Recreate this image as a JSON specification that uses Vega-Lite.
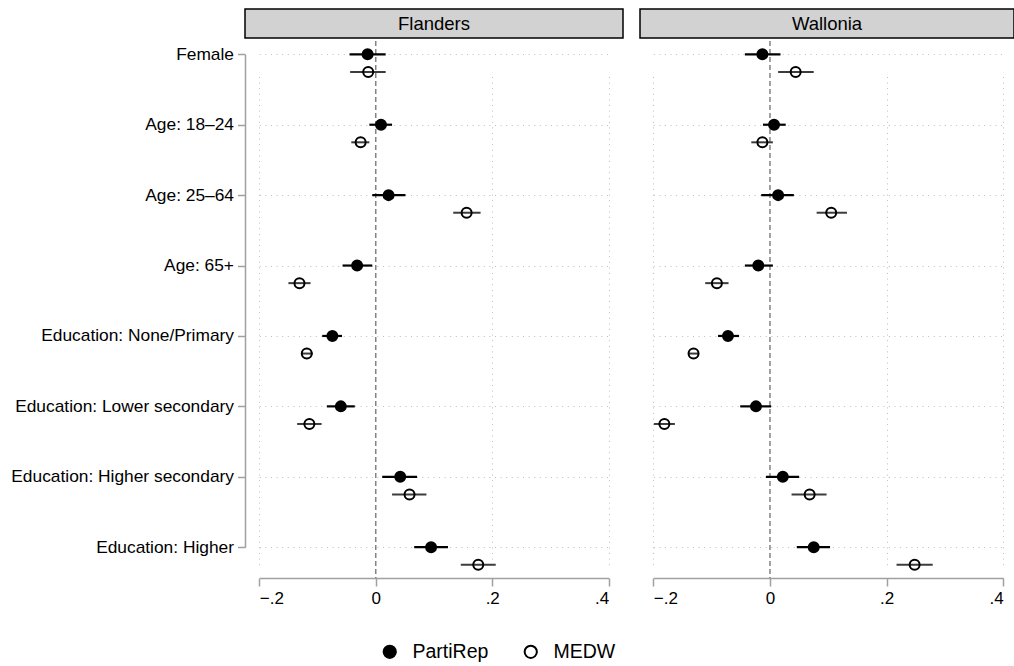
{
  "$schema": "https://vega.github.io/schema/vega-lite/v6.json",
  "padding": {"left": 10, "top": 8, "right": 0, "bottom": 0},
  "autosize": {"type": "pad"},
  "background": "white",
  "config": {
    "font": "Liberation Sans",
    "view": {"stroke": null},
    "axis": {"labelFont": "Liberation Sans", "labelColor": "black", "title": null, "labelLimit": 400},
    "legend": {"labelFont": "Liberation Sans"}
  },
  "datasets": {
    "coef": [
      {"region": "Flanders", "variable": "Female", "series": "PartiRep", "est": -0.014, "lo": -0.045, "hi": 0.017},
      {"region": "Flanders", "variable": "Female", "series": "MEDW", "est": -0.013, "lo": -0.044, "hi": 0.017},
      {"region": "Flanders", "variable": "Age: 18–24", "series": "PartiRep", "est": 0.009, "lo": -0.011, "hi": 0.028},
      {"region": "Flanders", "variable": "Age: 18–24", "series": "MEDW", "est": -0.026, "lo": -0.042, "hi": -0.011},
      {"region": "Flanders", "variable": "Age: 25–64", "series": "PartiRep", "est": 0.022, "lo": -0.006, "hi": 0.051},
      {"region": "Flanders", "variable": "Age: 25–64", "series": "MEDW", "est": 0.156, "lo": 0.133, "hi": 0.180},
      {"region": "Flanders", "variable": "Age: 65+", "series": "PartiRep", "est": -0.032, "lo": -0.057, "hi": -0.006},
      {"region": "Flanders", "variable": "Age: 65+", "series": "MEDW", "est": -0.131, "lo": -0.150, "hi": -0.112},
      {"region": "Flanders", "variable": "Education: None/Primary", "series": "PartiRep", "est": -0.0745, "lo": -0.092, "hi": -0.058},
      {"region": "Flanders", "variable": "Education: None/Primary", "series": "MEDW", "est": -0.1185, "lo": -0.128, "hi": -0.108},
      {"region": "Flanders", "variable": "Education: Lower secondary", "series": "PartiRep", "est": -0.060, "lo": -0.084, "hi": -0.036},
      {"region": "Flanders", "variable": "Education: Lower secondary", "series": "MEDW", "est": -0.114, "lo": -0.135, "hi": -0.093},
      {"region": "Flanders", "variable": "Education: Higher secondary", "series": "PartiRep", "est": 0.042, "lo": 0.011, "hi": 0.071},
      {"region": "Flanders", "variable": "Education: Higher secondary", "series": "MEDW", "est": 0.058, "lo": 0.028, "hi": 0.087},
      {"region": "Flanders", "variable": "Education: Higher", "series": "PartiRep", "est": 0.095, "lo": 0.066, "hi": 0.124},
      {"region": "Flanders", "variable": "Education: Higher", "series": "MEDW", "est": 0.176, "lo": 0.146, "hi": 0.206},
      {"region": "Wallonia", "variable": "Female", "series": "PartiRep", "est": -0.013, "lo": -0.043, "hi": 0.018},
      {"region": "Wallonia", "variable": "Female", "series": "MEDW", "est": 0.044, "lo": 0.014, "hi": 0.075},
      {"region": "Wallonia", "variable": "Age: 18–24", "series": "PartiRep", "est": 0.007, "lo": -0.012, "hi": 0.027},
      {"region": "Wallonia", "variable": "Age: 18–24", "series": "MEDW", "est": -0.013, "lo": -0.032, "hi": 0.005},
      {"region": "Wallonia", "variable": "Age: 25–64", "series": "PartiRep", "est": 0.014, "lo": -0.015, "hi": 0.041},
      {"region": "Wallonia", "variable": "Age: 25–64", "series": "MEDW", "est": 0.105, "lo": 0.080, "hi": 0.132},
      {"region": "Wallonia", "variable": "Age: 65+", "series": "PartiRep", "est": -0.020, "lo": -0.043, "hi": 0.005},
      {"region": "Wallonia", "variable": "Age: 65+", "series": "MEDW", "est": -0.091, "lo": -0.111, "hi": -0.071},
      {"region": "Wallonia", "variable": "Education: None/Primary", "series": "PartiRep", "est": -0.072, "lo": -0.089, "hi": -0.053},
      {"region": "Wallonia", "variable": "Education: None/Primary", "series": "MEDW", "est": -0.131, "lo": -0.139, "hi": -0.123},
      {"region": "Wallonia", "variable": "Education: Lower secondary", "series": "PartiRep", "est": -0.024, "lo": -0.051, "hi": 0.002},
      {"region": "Wallonia", "variable": "Education: Lower secondary", "series": "MEDW", "est": -0.181, "lo": -0.199, "hi": -0.163},
      {"region": "Wallonia", "variable": "Education: Higher secondary", "series": "PartiRep", "est": 0.022, "lo": -0.007, "hi": 0.050},
      {"region": "Wallonia", "variable": "Education: Higher secondary", "series": "MEDW", "est": 0.068, "lo": 0.037, "hi": 0.097},
      {"region": "Wallonia", "variable": "Education: Higher", "series": "PartiRep", "est": 0.075, "lo": 0.046, "hi": 0.103},
      {"region": "Wallonia", "variable": "Education: Higher", "series": "MEDW", "est": 0.248, "lo": 0.217, "hi": 0.279}
    ]
  },
  "spacing": 15,
  "hconcat": [
    {
      "spacing": 1,
      "vconcat": [
        {
          "width": 378, "height": 29,
          "view": {"fill": "#d2d2d2", "stroke": "black", "strokeWidth": 1.5},
          "data": {"values": [{"panel": "Flanders"}]},
          "mark": {"type": "text", "fontSize": 18.5, "color": "black", "font": "Liberation Sans"},
          "encoding": {"text": {"field": "panel", "type": "nominal"}}
        },
        {
          "width": 378, "height": 537,
          "data": {"name": "coef"},
          "transform": [{"filter": "datum.region === 'Flanders'"}],
          "layer": [
            {
              "data": {"values": [{"z": 0}]},
              "mark": {"type": "rule", "color": "#7a7a7a", "strokeWidth": 1.4, "strokeDash": [5, 3]},
              "encoding": {
                "x": {"field": "z", "type": "quantitative", "scale": {"domain": [-0.2, 0.4], "range": [14.3, 363.7], "nice": false, "zero": false},
                  "axis": {"values": [-0.2, 0, 0.2, 0.4], "labelExpr": "datum.value === 0 ? '0' : replace(replace(format(datum.value, '.1f'), '0.', '.'), '-', '−')", "domainColor": "#a0a0a0", "domainWidth": 1.5, "tickColor": "#a0a0a0", "tickWidth": 1.5, "tickSize": 8, "labelFontSize": 17, "labelPadding": 4, "grid": true, "gridDash": [1, 4.6], "gridColor": "#bdbdbd", "gridOpacity": {"condition": {"test": "datum.value === 0", "value": 0}, "value": 1}}}
              }
            },
            {
              "transform": [{"filter": "datum.series === 'PartiRep'"}],
              "mark": {"type": "rule", "color": "black", "strokeWidth": 2.2},
              "encoding": {
                "x": {"field": "lo", "type": "quantitative"},
                "x2": {"field": "hi"},
                "y": {"field": "variable", "type": "nominal", "sort": null,
                  "scale": {"type": "point", "padding": 0, "range": [13.3, 506.2], "domain": ["Female", "Age: 18–24", "Age: 25–64", "Age: 65+", "Education: None/Primary", "Education: Lower secondary", "Education: Higher secondary", "Education: Higher"]},
                  "axis": {"domainColor": "#a0a0a0", "domainWidth": 1.5, "tickColor": "#a0a0a0", "tickWidth": 1.5, "tickSize": 7.5, "labelFontSize": 17.35, "labelPadding": 4, "labelLimit": 400, "grid": true, "gridDash": [1, 4.6], "gridColor": "#bdbdbd"}}
              }
            },
            {
              "transform": [{"filter": "datum.series === 'MEDW'"}],
              "mark": {"type": "rule", "color": "#3c3c3c", "strokeWidth": 2, "yOffset": 17.6},
              "encoding": {
                "x": {"field": "lo", "type": "quantitative"},
                "x2": {"field": "hi"},
                "y": {"field": "variable", "type": "nominal", "sort": null}
              }
            },
            {
              "transform": [{"filter": "datum.series === 'PartiRep'"}],
              "mark": {"type": "point", "shape": "circle", "filled": true, "size": 100, "stroke": "black", "strokeWidth": 2, "opacity": 1},
              "encoding": {
                "x": {"field": "est", "type": "quantitative"},
                "y": {"field": "variable", "type": "nominal", "sort": null},
                "fill": {"field": "series", "type": "nominal", "scale": {"domain": ["PartiRep", "MEDW"], "range": ["black", "transparent"]},
                  "legend": {"title": null, "orient": "none", "legendX": 135, "legendY": 633, "direction": "horizontal", "labelFontSize": 19.5, "labelColor": "black", "symbolType": "circle", "symbolSize": 150, "symbolStrokeColor": "black", "symbolStrokeWidth": 2, "labelOffset": 13, "columnPadding": 31, "symbolOpacity": 1}}
              }
            },
            {
              "transform": [{"filter": "datum.series === 'MEDW'"}],
              "mark": {"type": "point", "shape": "circle", "filled": true, "size": 100, "stroke": "black", "strokeWidth": 2, "opacity": 1, "yOffset": 17.6},
              "encoding": {
                "x": {"field": "est", "type": "quantitative"},
                "y": {"field": "variable", "type": "nominal", "sort": null},
                "fill": {"field": "series", "type": "nominal"}
              }
            }
          ]
        }
      ]
    },
    {
      "spacing": 1,
      "vconcat": [
        {
          "width": 374, "height": 29,
          "view": {"fill": "#d2d2d2", "stroke": "black", "strokeWidth": 1.5},
          "data": {"values": [{"panel": "Wallonia"}]},
          "mark": {"type": "text", "fontSize": 18.5, "color": "black", "font": "Liberation Sans"},
          "encoding": {"text": {"field": "panel", "type": "nominal"}}
        },
        {
          "width": 374, "height": 537,
          "data": {"name": "coef"},
          "transform": [{"filter": "datum.region === 'Wallonia'"}],
          "layer": [
            {
              "data": {"values": [{"z": 0}]},
              "mark": {"type": "rule", "color": "#7a7a7a", "strokeWidth": 1.4, "strokeDash": [5, 3]},
              "encoding": {
                "x": {"field": "z", "type": "quantitative", "scale": {"domain": [-0.2, 0.4], "range": [13.3, 363.3], "nice": false, "zero": false},
                  "axis": {"values": [-0.2, 0, 0.2, 0.4], "labelExpr": "datum.value === 0 ? '0' : replace(replace(format(datum.value, '.1f'), '0.', '.'), '-', '−')", "domainColor": "#a0a0a0", "domainWidth": 1.5, "tickColor": "#a0a0a0", "tickWidth": 1.5, "tickSize": 8, "labelFontSize": 17, "labelPadding": 4, "grid": true, "gridDash": [1, 4.6], "gridColor": "#bdbdbd", "gridOpacity": {"condition": {"test": "datum.value === 0", "value": 0}, "value": 1}}}
              }
            },
            {
              "transform": [{"filter": "datum.series === 'PartiRep'"}],
              "mark": {"type": "rule", "color": "black", "strokeWidth": 2.2},
              "encoding": {
                "x": {"field": "lo", "type": "quantitative"},
                "x2": {"field": "hi"},
                "y": {"field": "variable", "type": "nominal", "sort": null,
                  "scale": {"type": "point", "padding": 0, "range": [13.3, 506.2], "domain": ["Female", "Age: 18–24", "Age: 25–64", "Age: 65+", "Education: None/Primary", "Education: Lower secondary", "Education: Higher secondary", "Education: Higher"]},
                  "axis": {"domain": false, "ticks": false, "labels": false, "grid": true, "gridDash": [1, 4.6], "gridColor": "#bdbdbd"}}
              }
            },
            {
              "transform": [{"filter": "datum.series === 'MEDW'"}],
              "mark": {"type": "rule", "color": "#3c3c3c", "strokeWidth": 2, "yOffset": 17.6},
              "encoding": {
                "x": {"field": "lo", "type": "quantitative"},
                "x2": {"field": "hi"},
                "y": {"field": "variable", "type": "nominal", "sort": null}
              }
            },
            {
              "transform": [{"filter": "datum.series === 'PartiRep'"}],
              "mark": {"type": "point", "shape": "circle", "filled": true, "size": 100, "stroke": "black", "strokeWidth": 2, "opacity": 1},
              "encoding": {
                "x": {"field": "est", "type": "quantitative"},
                "y": {"field": "variable", "type": "nominal", "sort": null},
                "fill": {"field": "series", "type": "nominal"}
              }
            },
            {
              "transform": [{"filter": "datum.series === 'MEDW'"}],
              "mark": {"type": "point", "shape": "circle", "filled": true, "size": 100, "stroke": "black", "strokeWidth": 2, "opacity": 1, "yOffset": 17.6},
              "encoding": {
                "x": {"field": "est", "type": "quantitative"},
                "y": {"field": "variable", "type": "nominal", "sort": null},
                "fill": {"field": "series", "type": "nominal"}
              }
            }
          ]
        }
      ]
    }
  ]
}
